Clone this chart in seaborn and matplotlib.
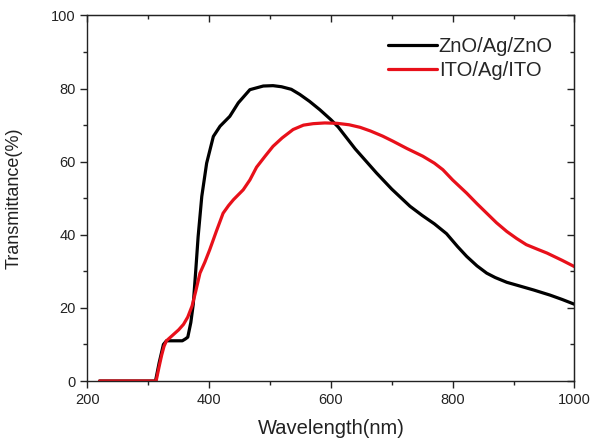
import matplotlib
matplotlib.use("Agg")
import matplotlib.pyplot as plt
import seaborn as sns
import pandas as pd
from matplotlib.ticker import MultipleLocator

# ---- data ----
zno_wl = [220, 312, 318, 325, 330, 340, 350, 356, 361, 365, 370, 374, 378, 382, 388, 396,
          407, 418, 434, 448, 467, 489, 505, 519, 535, 549, 565, 582, 600, 612, 640, 675,
          700, 730, 750, 770, 790, 808, 823, 840, 856, 870, 889, 910, 933, 960, 980, 1000]
zno_t = [0, 0, 5, 10, 11, 11, 11, 11, 11.5, 12, 16, 21, 30, 39.5, 50.5, 59.6,
         66.9, 69.7, 72.4, 76.1, 79.7, 80.7, 80.8, 80.5, 79.8, 78.4, 76.5, 74.2, 71.5, 69.5, 63.5, 56.9,
         52.5, 47.8, 45.3, 43.0, 40.3, 36.8, 34.1, 31.5, 29.5, 28.3, 27.0, 26.0, 24.9, 23.5, 22.3, 21.0]

ito_wl = [220, 313, 318, 322, 326, 330, 340, 350, 358, 365, 372, 378, 385, 393, 401, 412,
          423, 432, 440, 456, 467, 478, 492, 505, 520, 538, 555, 571, 590, 610, 630, 648,
          665, 685, 702, 725, 751, 770, 784, 800, 823, 840, 856, 872, 889, 905, 921, 940, 955, 980, 1000]
ito_t = [0, 0, 4, 7, 9.5, 11, 12.5, 14, 15.5, 17.5, 20.5, 24.5, 29.5, 32.5, 35.9, 41,
         45.9, 48, 49.6, 52.3, 55, 58.5, 61.5, 64.2, 66.5, 68.8, 70, 70.4, 70.6, 70.5, 70.1, 69.4,
         68.4, 67.0, 65.6, 63.6, 61.5, 59.6, 57.8, 55, 51.4, 48.5, 45.9, 43.3, 40.9, 39, 37.3, 36, 35.0, 33, 31.3]

labels = ["ZnO/Ag/ZnO", "ITO/Ag/ITO"]
colors = ["#000000", "#e8101a"]
x_ticks = [200, 400, 600, 800, 1000]
y_ticks = [0, 20, 40, 60, 80, 100]

df = pd.concat([
    pd.DataFrame({"wl": zno_wl, "T": zno_t, "sample": labels[0]}),
    pd.DataFrame({"wl": ito_wl, "T": ito_t, "sample": labels[1]}),
], ignore_index=True)

sns.set_style("ticks")
plt.rcParams['font.family'] = ['Liberation Sans', 'DejaVu Sans']

fig = plt.figure(figsize=(5.94, 4.42), dpi=100)
ax = fig.add_axes([0.147, 0.138, 0.82, 0.827])

sns.lineplot(data=df, x="wl", y="T", hue="sample", palette=dict(zip(labels, colors)),
             linewidth=2.3, ax=ax, sort=False, estimator=None)

ax.set_xlim(200, 1000)
ax.set_ylim(0, 100)
ax.set_xticks(x_ticks)
ax.set_yticks(y_ticks)
ax.xaxis.set_minor_locator(MultipleLocator(100))
ax.yaxis.set_minor_locator(MultipleLocator(10))
ax.tick_params(axis='both', which='major', direction='out', length=5, width=1,
               labelsize=10.5, colors='#222222', labelcolor='#222222',
               top=False, right=False)
ax.tick_params(axis='both', which='minor', direction='out', length=3, width=1,
               colors='#222222', top=False, right=False)
for s in ax.spines.values():
    s.set_visible(True)
    s.set_color('#222222')
    s.set_linewidth(1.0)

# inward ticks on top and right
secx = ax.secondary_xaxis('top')
secx.set_xticks(x_ticks)
secx.xaxis.set_minor_locator(MultipleLocator(100))
secx.tick_params(which='major', direction='in', length=5, width=1, labeltop=False, colors='#222222')
secx.tick_params(which='minor', direction='in', length=3, width=1, colors='#222222')
secx.set_xticklabels([])
secy = ax.secondary_yaxis('right')
secy.set_yticks(y_ticks)
secy.yaxis.set_minor_locator(MultipleLocator(10))
secy.tick_params(which='major', direction='in', length=5, width=1, labelright=False, colors='#222222')
secy.tick_params(which='minor', direction='in', length=3, width=1, colors='#222222')
secy.set_yticklabels([])

ax.set_xlabel("Wavelength(nm)", fontsize=14.5, color='#222222', labelpad=9)
ax.set_ylabel("Transmittance(%)", fontsize=13, color='#222222', labelpad=20)

ax.legend(title=None, frameon=False, loc='upper left', bbox_to_anchor=(0.618, 0.94),
          fontsize=14.5, handlelength=2.4, handletextpad=0.1, borderpad=0,
          labelspacing=0.25, borderaxespad=0)

fig.savefig("out.png", dpi=100)
